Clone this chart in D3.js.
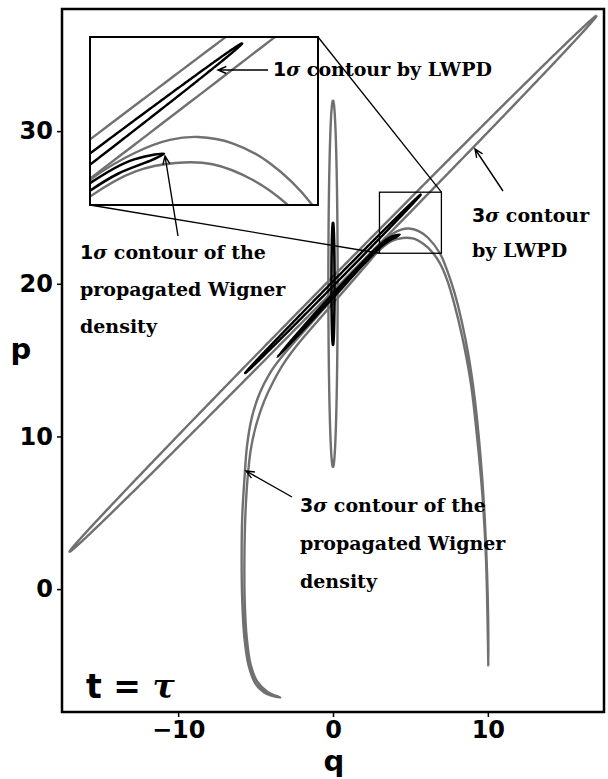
<!DOCTYPE html>
<html>
<head>
<meta charset="utf-8">
<script src="https://cdn.jsdelivr.net/npm/d3@7"></script>
<style>
  body { margin: 0; background: #fff; }
  .ann { font-family: "DejaVu Serif", serif; font-weight: bold; font-size: 19px; fill: #000; }
  .tick text { font-family: "DejaVu Sans", sans-serif; font-weight: bold; font-size: 24px; }
</style>
</head>
<body>
<svg id="chart" width="608" height="779"></svg>
<script>
// axes
var qTicks = [-10, 0, 10];
var pTicks = [0, 10, 20, 30];
var qDomain = [-17.5, 17.5];
var pDomain = [-8.05, 38];
var zoomQ = [3, 7];
var zoomP = [22, 26];

// gaussian contours: centre, 1 sigma half axis, 1 sigma half width
var initCenter = [0, 20], initAxis = [0, 4], initWidth = 0.1;
var lwpdCenter = [0, 20], lwpdAxis = [5.67, 5.85], lwpdWidth = 0.11;

// contours of the propagated wigner density
var wig3Outer = [[-3.4, -7.1], [-4.3, -6.85], [-5.0, -6.2], [-5.45, -5.0], [-5.72, -3.2], [-5.86, -0.8],
  [-5.9, 2], [-5.86, 4.8], [-5.72, 7.2], [-5.55, 9.4], [-5.25, 11.2], [-4.75, 12.8], [-4.1, 14.1],
  [-3.4, 15.1], [-2.3, 16.4], [-1, 17.9], [0.5, 19.6], [2, 21.4], [3, 22.6], [3.8, 23.25],
  [4.4, 23.55], [4.9, 23.62], [5.5, 23.47], [6.15, 23.0], [6.9, 22.0], [7.4, 20.8], [7.85, 19.4],
  [8.3, 17.6], [8.75, 15.3], [9.15, 12.5], [9.5, 9], [9.78, 5], [9.95, 1], [10.02, -2], [10.03, -5]];
var wig3Inner = [[9.98, -2], [9.88, 2], [9.66, 6], [9.3, 10], [8.9, 13.5], [8.35, 16.5], [7.8, 18.8],
  [7.35, 20.3], [6.9, 21.35], [6.47, 22.0], [5.85, 22.6], [5.15, 22.97], [4.5, 23.0], [3.8, 22.8],
  [3, 22.2], [2, 21.05], [0.5, 19.3], [-1, 17.55], [-2.3, 16.0], [-3.2, 14.75], [-3.9, 13.5],
  [-4.45, 12.3], [-4.95, 10.8], [-5.3, 9.2], [-5.52, 7.2], [-5.66, 4.8], [-5.72, 2], [-5.7, -0.8],
  [-5.57, -3.2], [-5.32, -4.95], [-4.9, -6.05], [-4.2, -6.75]];
var wig1Outer = [[-3.6, 15.2], [-2, 17.1], [0, 19.35], [2, 21.5], [3, 22.52], [3.7, 23.05], [4.3, 23.22]];
var wig1Inner = [[4.1, 23.08], [3.5, 22.75], [3, 22.34], [2, 21.3], [0, 19.1], [-2, 16.9]];

var W = 608, H = 779;
var frame = {left: 62, right: 604, top: 9, bottom: 712};
var inset = {left: 90, right: 318, top: 37, bottom: 205};
var gray = "#707070";

var svg = d3.select("#chart");

var x = d3.scaleLinear().domain(qDomain).range([frame.left, frame.right]);
var y = d3.scaleLinear().domain(pDomain).range([frame.bottom, frame.top]);
var xi = d3.scaleLinear().domain(zoomQ).range([inset.left, inset.right]);
var yi = d3.scaleLinear().domain(zoomP).range([inset.bottom, inset.top]);

function ellipse(c, a, w, k) {
  var len = Math.hypot(a[0], a[1]);
  var n = [-a[1] / len, a[0] / len];
  return d3.range(0, 2 * Math.PI + 0.001, Math.PI / 360).map(function(t) {
    return [c[0] + k * (Math.cos(t) * a[0] + Math.sin(t) * w * n[0]),
            c[1] + k * (Math.cos(t) * a[1] + Math.sin(t) * w * n[1])];
  });
}

var defs = svg.append("defs");
defs.append("clipPath").attr("id", "clipMain").append("rect")
  .attr("x", frame.left).attr("y", frame.top)
  .attr("width", frame.right - frame.left).attr("height", frame.bottom - frame.top);
defs.append("clipPath").attr("id", "clipInset").append("rect")
  .attr("x", inset.left).attr("y", inset.top)
  .attr("width", inset.right - inset.left).attr("height", inset.bottom - inset.top);

function drawCurves(g, xs, ys) {
  var smooth = d3.line().x(d => xs(d[0])).y(d => ys(d[1])).curve(d3.curveCatmullRomClosed);
  var plain = d3.line().x(d => xs(d[0])).y(d => ys(d[1]));
  var curves = [
    {d: plain(ellipse(initCenter, initAxis, initWidth, 3)), c: gray, w: 2.4},
    {d: plain(ellipse(lwpdCenter, lwpdAxis, lwpdWidth, 3)), c: gray, w: 2.4},
    {d: smooth(wig3Outer.concat(wig3Inner)), c: gray, w: 2.4},
    {d: plain(ellipse(initCenter, initAxis, initWidth, 1)), c: "#000", w: 2.6},
    {d: plain(ellipse(lwpdCenter, lwpdAxis, lwpdWidth, 1)), c: "#000", w: 2.4},
    {d: smooth(wig1Outer.concat(wig1Inner)), c: "#000", w: 2.6}
  ];
  g.selectAll("path.curve").data(curves).join("path")
    .attr("class", "curve")
    .attr("d", d => d.d)
    .attr("fill", "none")
    .attr("stroke", d => d.c)
    .attr("stroke-width", d => d.w)
    .attr("stroke-linejoin", "round");
}

drawCurves(svg.append("g").attr("clip-path", "url(#clipMain)"), x, y);

// zoom box and connectors
svg.append("rect")
  .attr("x", x(zoomQ[0])).attr("y", y(zoomP[1]))
  .attr("width", x(zoomQ[1]) - x(zoomQ[0])).attr("height", y(zoomP[0]) - y(zoomP[1]))
  .attr("fill", "none").attr("stroke", "#000").attr("stroke-width", 1.3);
svg.append("line")
  .attr("x1", inset.right).attr("y1", inset.top).attr("x2", x(zoomQ[1])).attr("y2", y(zoomP[1]))
  .attr("stroke", "#000").attr("stroke-width", 1.3);
svg.append("line")
  .attr("x1", inset.left).attr("y1", inset.bottom).attr("x2", x(zoomQ[0])).attr("y2", y(zoomP[0]))
  .attr("stroke", "#000").attr("stroke-width", 1.3);

// inset
svg.append("rect")
  .attr("x", inset.left).attr("y", inset.top)
  .attr("width", inset.right - inset.left).attr("height", inset.bottom - inset.top)
  .attr("fill", "#fff");
drawCurves(svg.append("g").attr("clip-path", "url(#clipInset)"), xi, yi);
svg.append("rect")
  .attr("x", inset.left).attr("y", inset.top)
  .attr("width", inset.right - inset.left).attr("height", inset.bottom - inset.top)
  .attr("fill", "none").attr("stroke", "#000").attr("stroke-width", 2);

// frame and axes
svg.append("rect")
  .attr("x", frame.left).attr("y", frame.top)
  .attr("width", frame.right - frame.left).attr("height", frame.bottom - frame.top)
  .attr("fill", "none").attr("stroke", "#000").attr("stroke-width", 2.5);

var xAxis = svg.append("g").attr("transform", "translate(0," + frame.bottom + ")")
  .call(d3.axisBottom(x).tickValues(qTicks).tickSize(5).tickPadding(4)
    .tickFormat(d => d < 0 ? "\u2212" + Math.abs(d) : d));
var yAxis = svg.append("g").attr("transform", "translate(" + frame.left + ",0)")
  .call(d3.axisLeft(y).tickValues(pTicks).tickSize(5).tickPadding(4));
[xAxis, yAxis].forEach(function(a) {
  a.select(".domain").remove();
  a.selectAll(".tick line").attr("stroke-width", 1.5);
});

svg.append("text").attr("x", 334).attr("y", 771).attr("text-anchor", "middle")
  .style("font-family", "DejaVu Sans").style("font-weight", "bold").style("font-size", "29px").text("q");
svg.append("text").attr("x", 21).attr("y", 359).attr("text-anchor", "middle")
  .style("font-family", "DejaVu Sans").style("font-weight", "bold").style("font-size", "29px").text("p");

var tl = svg.append("text").attr("x", 86).attr("y", 698)
  .style("font-family", "DejaVu Sans").style("font-weight", "bold").style("font-size", "33px")
  .attr("xml:space", "preserve");
tl.append("tspan").text("t = ");
tl.append("tspan").style("font-family", "DejaVu Serif").style("font-style", "italic").text("\u03c4");

// annotations
function label(x0, y0, lines, gap) {
  lines.forEach(function(s, i) {
    var t = svg.append("text").attr("class", "ann").attr("x", x0).attr("y", y0 + i * gap);
    var m = s.match(/^([13])σ(.*)$/);
    if (m) {
      t.append("tspan").style("font-family", "DejaVu Sans").text(m[1]);
      t.append("tspan").style("font-style", "italic").text("\u03c3");
      t.append("tspan").text(m[2]);
    } else {
      t.text(s);
    }
  });
}
function arrow(x1, y1, x2, y2) {
  var a = Math.atan2(y2 - y1, x2 - x1), h = 9, s = 0.4;
  var p = d3.path();
  p.moveTo(x1, y1); p.lineTo(x2, y2);
  p.moveTo(x2 - h * Math.cos(a - s), y2 - h * Math.sin(a - s));
  p.lineTo(x2, y2);
  p.lineTo(x2 - h * Math.cos(a + s), y2 - h * Math.sin(a + s));
  svg.append("path").attr("d", p.toString()).attr("fill", "none")
    .attr("stroke", "#000").attr("stroke-width", 1.4);
}

label(273, 76, ["1σ contour by LWPD"], 0);
arrow(268, 70, 218, 70);
label(80, 259, ["1σ contour of the", "propagated Wigner", "density"], 37);
arrow(178, 236, 165, 156);
label(472, 222, ["3σ contour", "by LWPD"], 35);
arrow(503, 191, 475, 149);
label(300, 512, ["3σ contour of the", "propagated Wigner", "density"], 38);
arrow(292, 497, 246, 471);
</script>
</body>
</html>
